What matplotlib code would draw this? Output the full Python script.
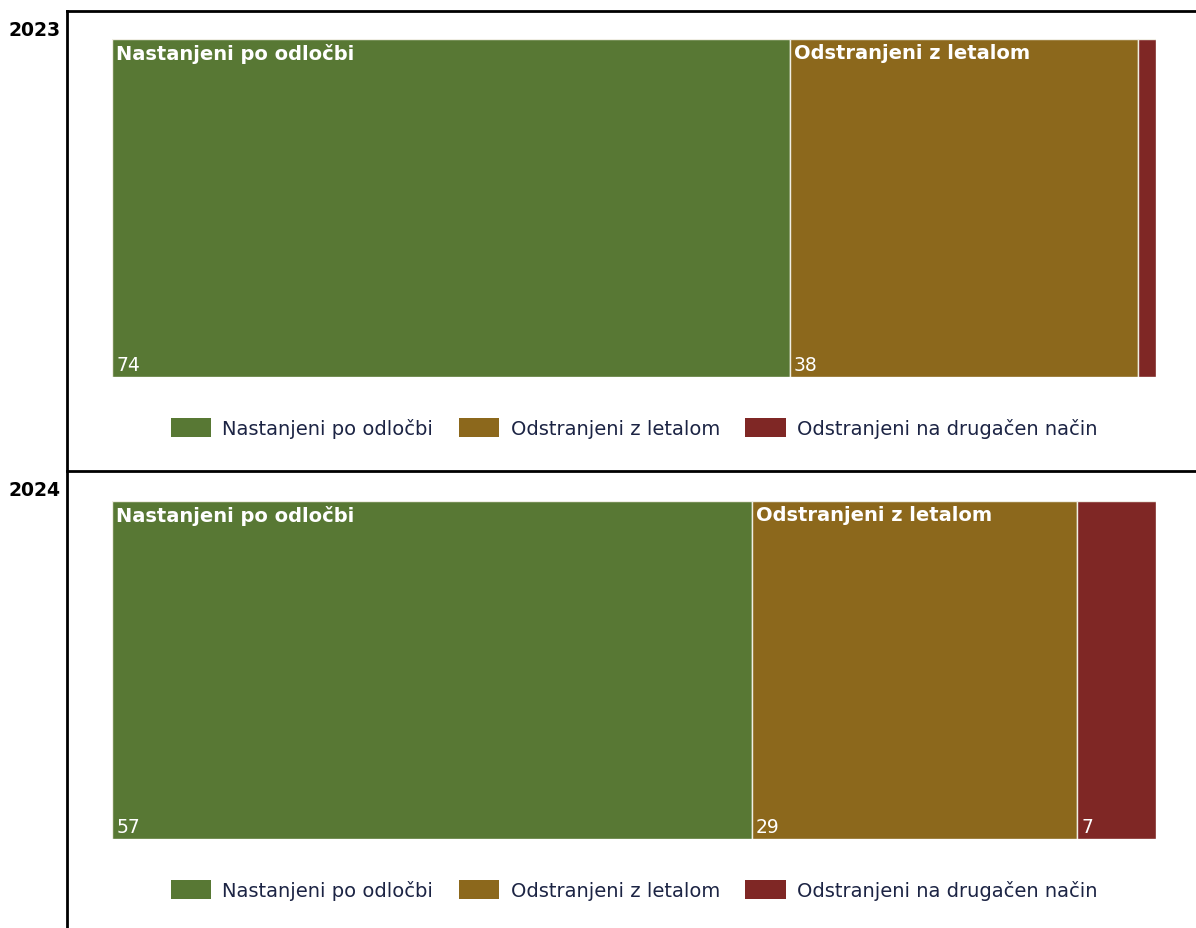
import numpy as np
from matplotlib import pyplot as plt
from matplotlib.lines import Line2D
from matplotlib.patches import Patch

years = ['2023', '2024']
categories = ['Nastanjeni po odločbi', 'Odstranjeni z letalom', 'Odstranjeni na drugačen način']
legend_labels = ['Nastanjeni po odločbi', 'Odstranjeni z letalom', 'Odstranjeni na drugačen način']
values_2023 = [74, 38, 2]
values_2024 = [57, 29, 7]
colors = ['#587834', '#8c681c', '#7f2725']

W, H = 1196, 929
fig = plt.figure(figsize=(W / 100, H / 100), dpi=100)

def fx(px):
  return px / W

def fy(py):
  return 1 - py / H

# frame lines
lw = 2
fig.add_artist(Line2D([fx(67), fx(67)], [fy(12), fy(929)], color='black', lw=lw))
fig.add_artist(Line2D([fx(67), 1], [fy(12), fy(12)], color='black', lw=lw))
fig.add_artist(Line2D([fx(67), 1], [fy(472), fy(472)], color='black', lw=lw))

panels = [(years[0], values_2023, 40, 378, 12), (years[1], values_2024, 502, 840, 472)]

for year, vals, top, bot, ytop in panels:
  fig.text(fx(8), fy(ytop + 18), year, fontsize=13.5, fontweight='bold', va='center', ha='left')
  ax = fig.add_axes([fx(112), fy(bot), fx(1156) - fx(112), (bot - top) / H])
  total = sum(vals)
  left = np.concatenate([[0], np.cumsum(vals)[:-1]])
  ax.barh(0, vals, left=left, height=1, color=colors, edgecolor='#f0eee4', linewidth=1)
  ax.set_xlim(0, total)
  ax.set_ylim(-0.5, 0.5)
  ax.axis('off')
  for i, (v, l) in enumerate(zip(vals, left)):
    if v / total < 0.05:
      continue
    if v / total > 0.2:
      ax.annotate(categories[i], (l, 0.5), xytext=(3, -3), textcoords='offset points',
                  color='white', fontsize=14, fontweight='bold', va='top', ha='left')
    ax.annotate(str(v), (l, -0.5), xytext=(3, 2), textcoords='offset points',
                color='white', fontsize=13.5, va='bottom', ha='left')
  handles = [Patch(facecolor=c, edgecolor='none') for c in colors]
  ax.legend(handles, legend_labels, loc='center', bbox_to_anchor=(0.5, -51 / (bot - top)),
            ncol=3, frameon=False, fontsize=14, handlelength=2.1, handleheight=1.15,
            handletextpad=0.57, columnspacing=1.3, labelcolor='#1c2444')

plt.savefig('out.png', dpi=100)
